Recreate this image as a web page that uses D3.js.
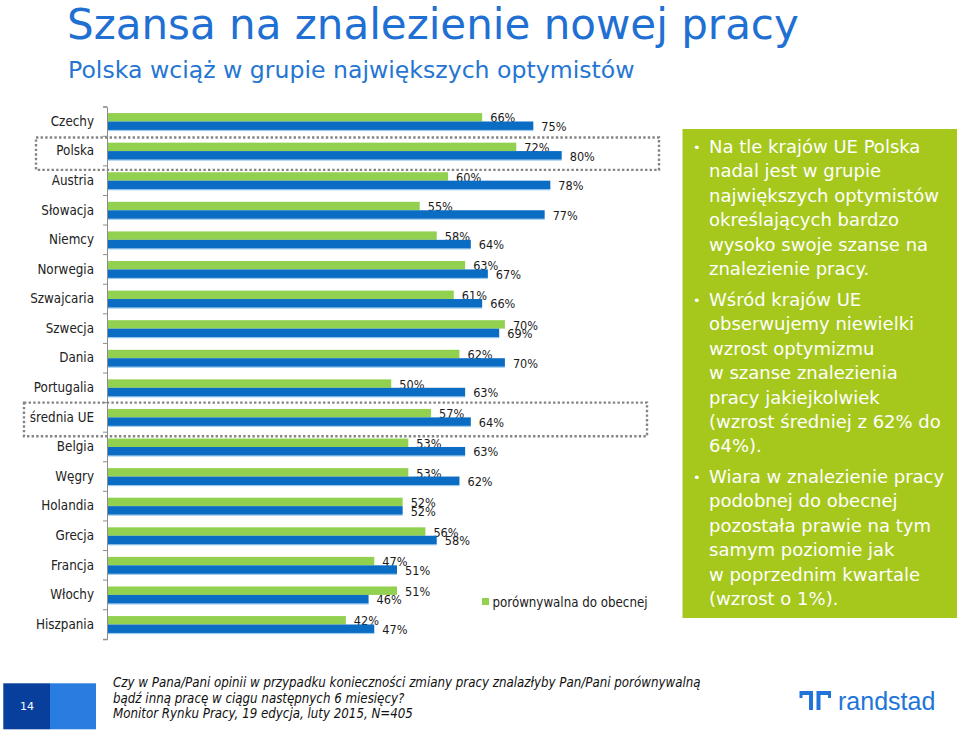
<!DOCTYPE html>
<html><head><meta charset="utf-8">
<script src="https://cdn.jsdelivr.net/npm/d3@7"></script>
<style>body{margin:0;background:#fff;} svg{display:block;}</style>
</head><body><svg id="c" width="960" height="731"></svg>
<script>
const categories = ["Czechy","Polska","Austria","Słowacja","Niemcy","Norwegia","Szwajcaria","Szwecja","Dania","Portugalia","średnia UE","Belgia","Węgry","Holandia","Grecja","Francja","Włochy","Hiszpania"];
const comparableValues = [66,72,60,55,58,63,61,70,62,50,57,53,53,52,56,47,51,42];
const otherValues = [75,80,78,77,64,67,66,69,70,63,64,63,62,52,58,51,46,47];
const seriesKeys = ["comparable","other"];
const legendLabels = ["porównywalna do obecnej"];
const highlighted = ["Polska","średnia UE"];
const titleText = "Szansa na znalezienie nowej pracy";
const subtitleText = "Polska wciąż w grupie największych optymistów";
const bulletParagraphs = [
  ["Na tle krajów UE Polska","nadal jest w grupie","największych optymistów","określających bardzo","wysoko swoje szanse na","znalezienie pracy."],
  ["Wśród krajów UE","obserwujemy niewielki","wzrost optymizmu","w szanse znalezienia","pracy jakiejkolwiek","(wzrost średniej z 62% do","64%)."],
  ["Wiara w znalezienie pracy","podobnej do obecnej","pozostała prawie na tym","samym poziomie jak","w poprzednim kwartale","(wzrost o 1%)."]
];
const footnoteLines = [
  "Czy w Pana/Pani opinii w przypadku konieczności zmiany pracy znalazłyby Pan/Pani porównywalną",
  "bądź inną pracę w ciągu następnych 6 miesięcy?",
  "Monitor Rynku Pracy, 19 edycja, luty 2015, N=405"
];
const pageNumber = "14";

const GREEN = "#92D050", BLUE = "#0A6CC2", TITLE = "#1F70D2";
const SANS = "'DejaVu Sans', Verdana, sans-serif";
const COND = "'DejaVu Sans Condensed', 'DejaVu Sans', sans-serif";

const svg = d3.select("#c");

// Title
svg.append("text").attr("x", 67).attr("y", 39).attr("fill", TITLE)
  .style("font-family", SANS).style("font-size", "42px").text(titleText);
svg.append("text").attr("x", 68).attr("y", 78).attr("fill", "#2576D2")
  .style("font-family", SANS).style("font-size", "23.6px").text(subtitleText);

// Scales
const x = d3.scaleLinear().domain([0, 100]).range([107.3, 675.3]);
const y = d3.scaleBand().domain(categories).range([106.7, 639.3]).paddingInner(0.43).paddingOuter(0.215);
const sub = d3.scaleBand().domain(seriesKeys).range([0, y.bandwidth()]);

const rows = categories.map((c, i) => ({c, comparable: comparableValues[i], other: otherValues[i]}));

// Bars
const g = svg.append("g");
const colors = {comparable: GREEN, other: BLUE};
seriesKeys.forEach(k => {
  if (k === "other") {
    g.selectAll("rect.sh-" + k).data(rows).join("rect")
      .attr("x", x(0)).attr("y", d => y(d.c) + sub(k) + sub.bandwidth() - 0.2)
      .attr("width", d => x(d[k]) - x(0)).attr("height", 1.4).attr("fill", "#9DCBEF");
  }
  g.selectAll("rect.b-" + k).data(rows).join("rect")
    .attr("x", x(0)).attr("y", d => y(d.c) + sub(k))
    .attr("width", d => x(d[k]) - x(0)).attr("height", sub.bandwidth()).attr("fill", colors[k]);
  g.selectAll("text.l-" + k).data(rows).join("text")
    .attr("x", d => x(d[k]) + 8).attr("y", d => y(d.c) + sub(k) + sub.bandwidth() / 2 + 0.8)
    .attr("dy", "0.35em").attr("fill", "#1a1a1a")
    .style("font-family", COND).style("font-size", "12.6px")
    .text(d => d[k] + "%");
});

// Axis
const axis = svg.append("g").attr("transform", `translate(${x(0) - 0.3},0)`)
  .call(d3.axisLeft(y).tickSize(0).tickSizeOuter(4).tickPadding(13));
axis.select(".domain").attr("stroke", "#8c8c8c");
axis.selectAll("text").attr("fill", "#222").style("font-family", COND).style("font-size", "13.3px");
const boundaries = d3.range(categories.length + 1).map(i => y.range()[0] + i * y.step());
axis.selectAll("line.bt").data(boundaries).join("line").attr("class", "bt")
  .attr("x1", -4).attr("x2", 0).attr("y1", d => d).attr("y2", d => d).attr("stroke", "#8c8c8c");

// Dotted highlight boxes
const boxLeft = {"Polska": 36, "średnia UE": 24};
const boxRight = {"Polska": 659, "średnia UE": 647};
highlighted.forEach(c => {
  const top = y(c) - y.step() * 0.215 + (c === "Polska" ? 1.2 : 0);
  const bottom = y(c) + y.bandwidth() + y.step() * 0.215 + 4;
  svg.append("rect").attr("x", boxLeft[c]).attr("y", top)
    .attr("width", boxRight[c] - boxLeft[c]).attr("height", bottom - top)
    .attr("fill", "none").attr("stroke", "#858585").attr("stroke-width", 2.4)
    .attr("stroke-dasharray", "2.4,2.2");
});

// Legend
const lg = svg.append("g").attr("transform", "translate(482,598)");
lg.append("rect").attr("width", 7).attr("height", 7).attr("fill", GREEN);
lg.append("text").attr("x", 10.5).attr("y", 8.6).attr("fill", "#1a1a1a")
  .style("font-family", COND).style("font-size", "13.2px").text(legendLabels[0]);

// Right panel
svg.append("rect").attr("x", 682.5).attr("y", 129).attr("width", 274.5).attr("height", 489).attr("fill", "#A6C81C");
const paraStarts = [153, 306, 483];
bulletParagraphs.forEach((lines, pi) => {
  svg.append("text").attr("x", 693).attr("y", paraStarts[pi] - 1).attr("fill", "#fff")
    .style("font-family", SANS).style("font-size", "13px").text("•");
  lines.forEach((ln, li) => {
    svg.append("text").attr("x", 709).attr("y", paraStarts[pi] + li * 24.4).attr("fill", "#fff")
      .style("font-family", SANS).style("font-size", "18px").text(ln);
  });
});

// Footer
svg.append("rect").attr("x", 3.3).attr("y", 683.3).attr("width", 46.7).attr("height", 46).attr("fill", "#083E9C");
svg.append("rect").attr("x", 50).attr("y", 683.3).attr("width", 46).attr("height", 46).attr("fill", "#2A7DE0");
svg.append("text").attr("x", 27).attr("y", 710).attr("text-anchor", "middle").attr("fill", "#fff")
  .style("font-family", SANS).style("font-size", "11px").text(pageNumber);
footnoteLines.forEach((ln, i) => {
  svg.append("text").attr("x", 113).attr("y", 687 + i * 15.5).attr("fill", "#111")
    .style("font-family", COND).style("font-style", "italic").style("font-size", "13.2px").text(ln);
});

// Logo
const LOGO = "#2175D9";
svg.append("path").attr("fill", LOGO)
  .attr("d", "M799.5,691 L813,691 L813,710 L809,710 L809,695 L802.5,695 L802.5,698 L799.5,698 Z");
svg.append("path").attr("fill", LOGO)
  .attr("d", "M816.5,691 L831,691 L831,698 L828,698 L828,695 L820.5,695 L820.5,710 L816.5,710 Z");
svg.append("text").attr("x", 838).attr("y", 710).attr("fill", LOGO)
  .style("font-family", "'Liberation Sans', Arial, sans-serif").style("font-size", "25px").text("randstad");
</script></body></html>
